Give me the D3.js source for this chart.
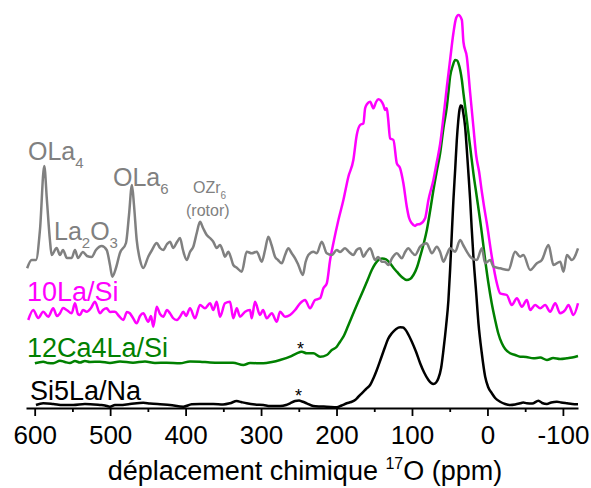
<!DOCTYPE html>
<html><head><meta charset="utf-8">
<script src="https://cdn.jsdelivr.net/npm/d3@7"></script>
<style>body{margin:0;background:#fff} svg{display:block}</style>
</head><body>
<svg id="c" width="591" height="488"></svg>
<script>
// ---- data ----
const majorTicks = [600, 500, 400, 300, 200, 100, 0, -100];
const minorTicks = [550, 450, 350, 250, 150, 50, -50];
const tickLabels = ["600", "500", "400", "300", "200", "100", "0", "-100"];
const seriesNames = ["Si5La/Na", "12Ca4La/Si", "10La/Si", "La2O3"];
const seriesColors = ["#000000", "#008000", "#ff00ff", "#808080"];
const seriesOffsets = [4, 46, 96, 152];

// [ppm, intensity] pairs
const blackTrace = [[598.3,-1],[588.7,0.7],[575.4,0],[562.5,-1],[548.9,-1],[533.4,0],[513.5,-1],[506.9,-1.5],[500.2,-2.7],[493.6,-1],[487,-1],[473.9,0],[456.1,1.3],[447.2,0.5],[433.9,-0.3],[420.7,-1],[403,-2.7],[391.9,-0.3],[380.9,0],[363.3,0],[350.4,-0.5],[341.2,0.7],[332.2,3],[326.6,2],[319,0.7],[308,-0.5],[297,-1],[288.1,-2],[274.8,-2],[266.9,-1],[261.6,0.7],[254.9,3],[249.6,3.5],[245.7,2.5],[239.5,0.7],[230.7,-2],[221.8,-2.5],[212.9,-2.7],[199.7,-3.3],[193.3,-1.5],[186.4,0.7],[180.7,2],[175.4,4],[171.4,7],[166.5,10.7],[160.8,15],[155.5,19],[150.9,26],[146.6,34],[140.9,46],[135.6,57.3],[131.7,65],[126.7,70.7],[121,75],[115.7,76.7],[111.8,76.5],[109.1,74.7],[104.5,69],[100.2,62.3],[94.5,52],[89.2,40.7],[83.9,31.5],[78.2,24],[74.6,21],[71.6,20],[68,21.5],[65,25.7],[61.4,36],[58.3,54],[54.8,78],[51.7,104],[49.5,134],[47.2,170.7],[45.1,204],[42.8,234],[40.6,264],[38.8,282],[37.1,294],[35.5,298.5],[33.9,298],[32.2,292],[29.6,277.3],[27.3,254],[25.2,230.7],[22.9,204],[20.9,176],[18.6,147.3],[15,112],[11.9,80.7],[7.7,52],[3,27.3],[-0.9,17],[-5.8,10.7],[-10.2,6],[-16.8,2.3],[-23.5,0],[-30.1,-1],[-36.7,-0.5],[-43.4,0.7],[-47.3,1.5],[-52.2,0.7],[-59.3,0.5],[-67.6,3.3],[-72.5,1],[-78.8,0],[-84.5,1.5],[-92,2.3],[-97.7,1.5],[-105.3,0.7],[-112.3,0],[-120,-0.3]];

const greenTrace = [[599.7,-1.3],[588.7,0.3],[582.4,-1],[575.4,-1.3],[566.5,1.3],[559.9,0],[553.3,-1],[546.6,1],[540,-0.5],[533.4,1],[526.7,0],[513.5,0.3],[500.2,-1],[487,0.5],[469.7,-0.7],[453.8,0.5],[440.6,-1],[425.1,-0.7],[407.4,-1.3],[394.2,0.5],[380.9,0.3],[367.6,-0.5],[354.4,-0.7],[337.2,-0.7],[323.5,-3],[314.6,-1],[297,-1.3],[285.5,0],[274.8,2],[261.6,5.3],[252.7,8.7],[246.1,10.3],[239.5,8.7],[230.7,8.7],[221.8,5.3],[212.9,7],[206.3,12],[199.7,15.3],[195.3,20.3],[190.9,25.3],[184.7,36],[177.7,48.7],[171.4,60],[164.4,72],[158.8,82],[153.3,92],[148.9,98],[144.5,102],[139.6,103.5],[134.3,102.7],[129,98.7],[124.4,94],[120.1,90.3],[113.5,85],[106.9,82],[102.5,83],[98.1,87],[93.2,95],[89.2,105.3],[84.6,118],[80.3,132],[76,151],[71.6,172],[67.1,191],[62.7,208.7],[58.3,234],[53.8,255.3],[51.4,272],[49.5,285.3],[46.1,296],[42.8,302],[40.2,301.5],[38.4,298.7],[33.9,282],[31.8,268.7],[27.3,242],[25.2,229],[22.9,215],[18.6,188.7],[14.1,165],[7.4,128.7],[3,102],[-1.3,78.7],[-5.6,59],[-10.2,42],[-14.2,29],[-19.1,18.7],[-23.5,13],[-30.1,8.7],[-36.7,7],[-43.4,5.3],[-51.3,5],[-61,3.7],[-69.9,4.5],[-78.8,2],[-87.1,4],[-96.4,3],[-105.3,3.7],[-112.3,4.5],[-120,6]];

const magentaTrace = [[608.5,-8],[601.9,2],[595.3,-6],[588.7,0.3],[582,-4.7],[575.4,3.7],[570.5,-4],[566.5,-1.3],[562.5,4],[557.6,2],[551,-1.3],[546.6,8.7],[542.6,-2],[540,-3],[536,2],[531.1,0.3],[525.4,4],[520.1,10.3],[513.5,-1.3],[509.5,2],[504.6,3.7],[500.2,0],[493.6,0.3],[488.3,-4],[482.6,-8],[477.7,0],[473.9,-1.3],[469.7,-6],[464.8,-11.3],[460.4,-4],[456.1,-1.3],[449.5,-9.7],[445.9,-4],[442.8,-14.7],[438.3,5.3],[433.9,-2],[429.6,-4.7],[424.6,2],[420.7,-1.3],[416.7,-6],[411.8,-8],[407.4,-4.7],[403,0.3],[399.4,-4],[394.2,3.7],[387.5,-6.3],[380.9,7],[374.3,3.7],[367.6,8.7],[363.3,2],[358.8,10.3],[354.4,-4.7],[347.8,8.7],[341.2,10.3],[336.8,-6.3],[332.2,3.7],[327.9,-4.7],[321.2,0.3],[314.6,2],[312.4,-6.3],[308,10.3],[301.4,-3],[297.4,2],[292.5,-6.3],[285.8,-1.3],[279.2,-9.7],[274.8,0.3],[268.2,-4.7],[261.6,-3],[254.9,2],[248.3,8.7],[241.7,12],[235.1,3.7],[228.5,12],[221.8,13.7],[217.4,23.7],[212.9,28.7],[208.5,52],[204.2,68.7],[197.5,92],[190.9,112],[184.3,135.3],[177.7,152],[173.2,177],[168.8,187],[164.4,188.7],[162.1,203.7],[159.5,208],[155.5,210.3],[151.1,203.7],[147.6,210],[144.5,212.7],[137.9,207],[135.6,202],[133.4,203.7],[131.7,194],[129,173.7],[124.6,172],[120.1,148.7],[115.7,143.7],[111.4,128.7],[106.9,105.3],[103.8,94],[100.2,88.7],[95.9,86],[93.2,87.5],[89.2,88],[82.6,93.7],[78.2,112],[71.6,132],[67.1,150],[62.7,168],[58.3,195],[53.8,225],[49.5,252],[45.1,279],[41.5,294],[38.4,297],[33.9,292],[31.8,270],[27.3,255],[22.9,219],[18.6,185],[15,157],[11,140],[7.4,120],[4.4,105],[0.8,88.7],[-5.8,55.3],[-12.5,28.7],[-16.8,18.7],[-25.7,17],[-32.3,7],[-39,13.7],[-45.6,5.3],[-52.2,12],[-56.6,2],[-63.2,7],[-69.9,3.7],[-76.5,7],[-83.1,0.3],[-89.8,8.7],[-96.4,-1.3],[-103,2],[-107.4,7],[-114,-3],[-120,8.7]];

const grayTrace = [[610,-12.3],[604,-4],[598.3,-4],[593,26],[587.3,90],[583.8,56],[579.8,16],[577.5,1],[570.9,8],[566.5,1],[562.5,6],[557.2,-2],[551,-2],[546.6,6],[542.6,-2],[536,4],[530.7,0],[524.5,-1],[518.8,6],[511.2,10],[504.6,6],[500.2,-9],[497.2,-20.7],[492.3,-12],[487,3],[479,13],[475,41],[471.1,71],[468.4,51],[464.8,16],[460.4,-4],[456.1,-12],[449.5,-0.7],[444.5,6],[438.3,13],[433.9,8],[429.6,6],[424.6,12],[420.7,14.3],[416.3,8],[411.4,14],[407.4,18],[403.5,6],[398.5,-4],[394.2,4],[389.8,9.3],[384.9,24],[380.9,34.3],[376.9,28],[372,21],[367.6,18],[363.3,14.3],[358.8,8],[354.4,11],[351.1,6],[347.8,-0.7],[343.4,4.3],[339.8,-2],[336.8,-9],[331.8,-12],[325.6,-15.7],[319,4.3],[312.4,2.7],[305.7,4.3],[299.1,-5.7],[294.7,6],[290.4,19.3],[286.1,11],[281.5,-0.7],[277.5,-4],[272.6,-7.3],[268.2,1],[263.8,7.7],[259.6,3],[254.9,-2.3],[250.6,-9],[244.7,-19],[241,-6],[237.3,1],[230.7,4.3],[226.2,2.7],[219.6,14.3],[212.9,2.7],[206.3,1],[199.7,6],[195.3,4],[188.7,7.7],[183.4,4],[177.7,1],[173.4,6],[168.8,7.7],[164.4,-0.7],[160.2,4],[155.5,7.7],[148.9,-4],[144.9,-1],[140,-5.7],[135.6,-6],[131.3,-9],[126.3,-2],[120.1,2.7],[113.5,-2.3],[109.1,4],[104.7,7.7],[100.5,4],[95.9,1],[89.2,9.3],[80.3,12.7],[77.3,8],[73.7,2.7],[67.1,9.3],[62.7,4],[58.3,-5.7],[54.1,1],[49.5,7.7],[42.8,4.3],[36.2,16],[32.2,11],[27.3,4.3],[20.7,-2.3],[14.1,-4],[7.4,7.7],[3,-7.3],[-3.6,-4],[-8,-10.7],[-16.8,-12.3],[-27.8,-14],[-36.7,4.3],[-43.4,-0.7],[-47.7,1],[-56.6,-14],[-65.5,-7.3],[-72.1,-4],[-80.9,11],[-87.5,-9],[-96.4,-5.7],[-100.8,-15.7],[-105.3,1],[-111.9,-4],[-120,7.7]];

const traces = [blackTrace, greenTrace, magentaTrace, grayTrace];

// ---- chart ----
const svg = d3.select("#c");
const FONT = "'Liberation Sans', Arial, Helvetica, sans-serif";
const x = d3.scaleLinear().domain([611.5, -120]).range([26, 578]);
const y = d3.scaleLinear().domain([0, 400]).range([408, 8]);

traces.forEach((tr, i) => {
  const off = seriesOffsets[i];
  const line = d3.line()
    .x(d => x(d[0]))
    .y(d => y(d[1] + off))
    .curve(d3.curveMonotoneX);
  svg.append("path")
    .datum(tr)
    .attr("d", line)
    .attr("fill", "none")
    .attr("stroke", seriesColors[i])
    .attr("stroke-width", 2.5)
    .attr("stroke-linejoin", "round");
});

// axis
const axisG = svg.append("g").attr("transform", `translate(0,${y(0)})`);
axisG.call(d3.axisBottom(x).tickValues(majorTicks).tickSize(8).tickSizeOuter(0)
  .tickFormat((d, i) => tickLabels[i]));
axisG.select(".domain").attr("stroke-width", 2);
axisG.selectAll(".tick line").attr("stroke-width", 1.8);
axisG.selectAll(".tick text")
  .attr("y", 18).attr("font-size", 26).attr("font-family", FONT).attr("fill", "#000");

const minorG = svg.append("g").attr("transform", `translate(0,${y(0)})`);
minorG.call(d3.axisBottom(x).tickValues(minorTicks).tickSize(4).tickSizeOuter(0).tickFormat(""));
minorG.select(".domain").remove();
minorG.selectAll(".tick line").attr("stroke-width", 1.8);

// axis title
const title = svg.append("text")
  .attr("x", 305).attr("y", 480)
  .attr("text-anchor", "middle")
  .attr("font-family", FONT).attr("font-size", 27).attr("fill", "#000");
title.append("tspan").text("déplacement chimique ");
title.append("tspan").attr("font-size", 16).attr("dy", -11).text("17");
title.append("tspan").attr("dy", 11).text("O (ppm)");

// labels with subscripts
function label(xp, yp, parts, color, size, subSize, subDy) {
  const t = svg.append("text")
    .attr("x", xp).attr("y", yp)
    .attr("font-family", FONT).attr("font-size", size).attr("fill", color);
  let shifted = 0;
  parts.forEach(p => {
    const ts = t.append("tspan").text(p.t);
    if (p.sub) { ts.attr("font-size", subSize).attr("dy", subDy - shifted); shifted = subDy; }
    else { ts.attr("dy", -shifted); shifted = 0; }
  });
}
const gray = seriesColors[3];
label(28, 160, [{t:"OLa"},{t:"4",sub:true}], gray, 25, 15, 8);
label(54, 240, [{t:"La"},{t:"2",sub:true},{t:"O"},{t:"3",sub:true}], gray, 25, 15, 8);
label(113, 186, [{t:"OLa"},{t:"6",sub:true}], gray, 25, 15, 8);
label(193, 193, [{t:"OZr"},{t:"6",sub:true}], gray, 16, 10, 6);
label(186, 216, [{t:"(rotor)"}], gray, 16, 10, 6);
label(27, 301, [{t:seriesNames[2]}], seriesColors[2], 27, 15, 8);
label(27, 357, [{t:seriesNames[1]}], seriesColors[1], 27, 15, 8);
label(30, 400, [{t:seriesNames[0]}], seriesColors[0], 27, 15, 8);
label(297, 355, [{t:"*"}], "#000", 18, 10, 6);
label(295, 402, [{t:"*"}], "#000", 18, 10, 6);
</script>
</body></html>
